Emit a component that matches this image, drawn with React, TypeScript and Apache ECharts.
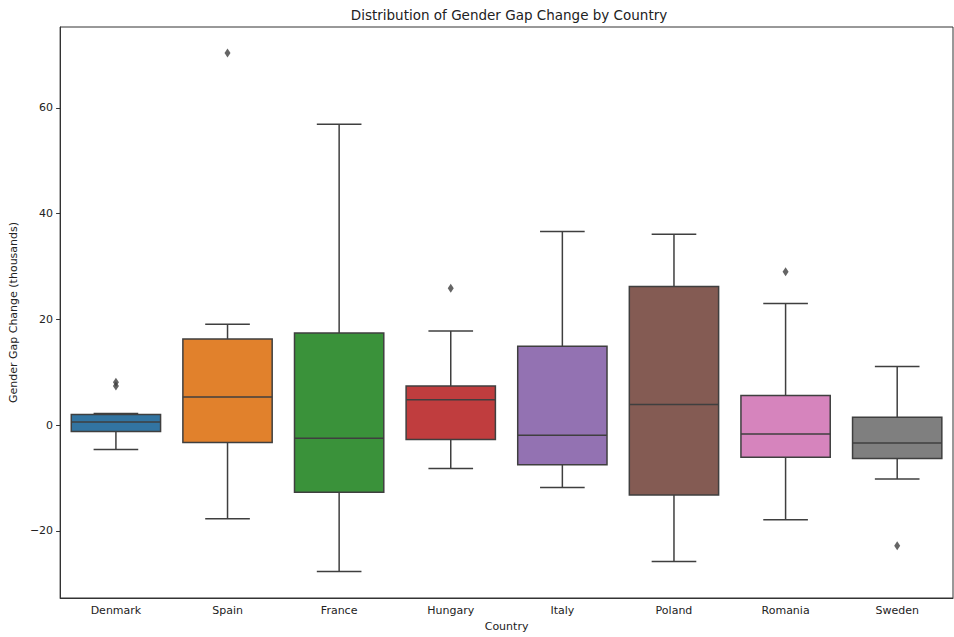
import React, { useEffect, useRef } from "react";
import * as echarts from "echarts";

const countries = ["Denmark", "Spain", "France", "Hungary", "Italy", "Poland", "Romania", "Sweden"];
const whiskerLow = [-4.6, -17.7, -27.7, -8.2, -11.8, -25.8, -17.9, -10.2];
const q1 = [-1.2, -3.3, -12.7, -2.7, -7.5, -13.2, -6.1, -6.3];
const medians = [0.6, 5.3, -2.5, 4.8, -1.9, 3.9, -1.7, -3.4];
const q3 = [2.0, 16.3, 17.4, 7.4, 14.9, 26.2, 5.6, 1.5];
const whiskerHigh = [2.2, 19.1, 56.9, 17.8, 36.6, 36.1, 23.0, 11.1];
const outlierCountry = ["Denmark", "Denmark", "Spain", "Hungary", "Romania", "Sweden"];
const outlierValue = [7.4, 8.1, 70.4, 25.9, 29.0, -22.8];
const yTicks = [-20, 0, 20, 40, 60];
const colors = ["#3274a1", "#e1812c", "#3a923a", "#c03d3e", "#9372b2", "#845b53", "#d684bd", "#7f7f7f"];

const LINE = "#3f3f3f";
const FONT = "DejaVu Sans";

export default function App() {
  const ref = useRef<HTMLDivElement>(null);
  useEffect(() => {
    if (!ref.current) return;
    const chart = echarts.init(ref.current, undefined, { renderer: "svg" });
    const boxData = countries.map((_, i) => [i, whiskerLow[i], q1[i], medians[i], q3[i], whiskerHigh[i]]);
    const outData = outlierCountry.map((c, i) => [c, outlierValue[i]]);
    chart.setOption({
      animation: false,
      backgroundColor: "#fff",
      title: {
        text: "Distribution of Gender Gap Change by Country",
        left: 509,
        top: 8,
        padding: 0,
        textAlign: "center",
        textStyle: { fontFamily: FONT, fontSize: 13.5, fontWeight: "normal", color: "#222" },
      },
      grid: { left: 59, right: 1, top: 27, bottom: 36, containLabel: false, show: true, borderColor: "#333", borderWidth: 1 },
      xAxis: {
        type: "category",
        data: countries,
        boundaryGap: true,
        name: "Country",
        nameLocation: "middle",
        nameGap: 23,
        nameTextStyle: { fontFamily: FONT, fontSize: 11, color: "#222" },
        axisLine: { onZero: false, lineStyle: { color: "#333", width: 1 } },
        axisTick: { alignWithLabel: true, length: 4, lineStyle: { color: "#333" } },
        axisLabel: { fontFamily: FONT, fontSize: 11, color: "#222", margin: 7 },
        splitLine: { show: false },
      },
      yAxis: {
        type: "value",
        min: -32.7,
        max: 75.3,
        name: "Gender Gap Change (thousands)",
        nameLocation: "middle",
        nameGap: 38,
        nameTextStyle: { fontFamily: FONT, fontSize: 11, color: "#222" },
        axisLine: { show: true, lineStyle: { color: "#333", width: 1 } },
        axisTick: { show: true, length: 4, customValues: yTicks, lineStyle: { color: "#333" } },
        axisLabel: {
          fontFamily: FONT,
          fontSize: 11,
          color: "#222",
          margin: 7,
          customValues: yTicks,
          formatter: (v: number) => String(v).replace("-", "\u2212"),
        },
        splitLine: { show: false },
      },
      series: [
        {
          type: "custom",
          data: boxData,
          encode: { x: 0, y: [1, 2, 3, 4, 5] },
          z: 2,
          renderItem: (params: any, api: any) => {
            const i = api.value(0);
            const pLo = api.coord([i, api.value(1)]);
            const pA = api.coord([i, api.value(2)]);
            const pM = api.coord([i, api.value(3)]);
            const pB = api.coord([i, api.value(4)]);
            const pHi = api.coord([i, api.value(5)]);
            const w = api.size([1, 0])[0] * 0.8;
            const cx = pM[0];
            const ls = { stroke: LINE, lineWidth: 1.5, fill: null };
            return {
              type: "group",
              children: [
                { type: "line", shape: { x1: cx, y1: pB[1], x2: cx, y2: pHi[1] }, style: ls },
                { type: "line", shape: { x1: cx, y1: pA[1], x2: cx, y2: pLo[1] }, style: ls },
                { type: "line", shape: { x1: cx - w / 4, y1: pHi[1], x2: cx + w / 4, y2: pHi[1] }, style: ls },
                { type: "line", shape: { x1: cx - w / 4, y1: pLo[1], x2: cx + w / 4, y2: pLo[1] }, style: ls },
                {
                  type: "rect",
                  shape: { x: cx - w / 2, y: pB[1], width: w, height: pA[1] - pB[1] },
                  style: { fill: colors[i], stroke: LINE, lineWidth: 1.5 },
                },
                { type: "line", shape: { x1: cx - w / 2, y1: pM[1], x2: cx + w / 2, y2: pM[1] }, style: ls },
              ],
            };
          },
        },
        {
          type: "scatter",
          data: outData,
          symbol: "diamond",
          symbolSize: [6, 9],
          itemStyle: { color: LINE },
          z: 3,
        },
      ],
    });
    return () => chart.dispose();
  }, []);
  return <div ref={ref} style={{ width: 954, height: 637, position: "absolute", left: 0, top: 0 }} />;
}
